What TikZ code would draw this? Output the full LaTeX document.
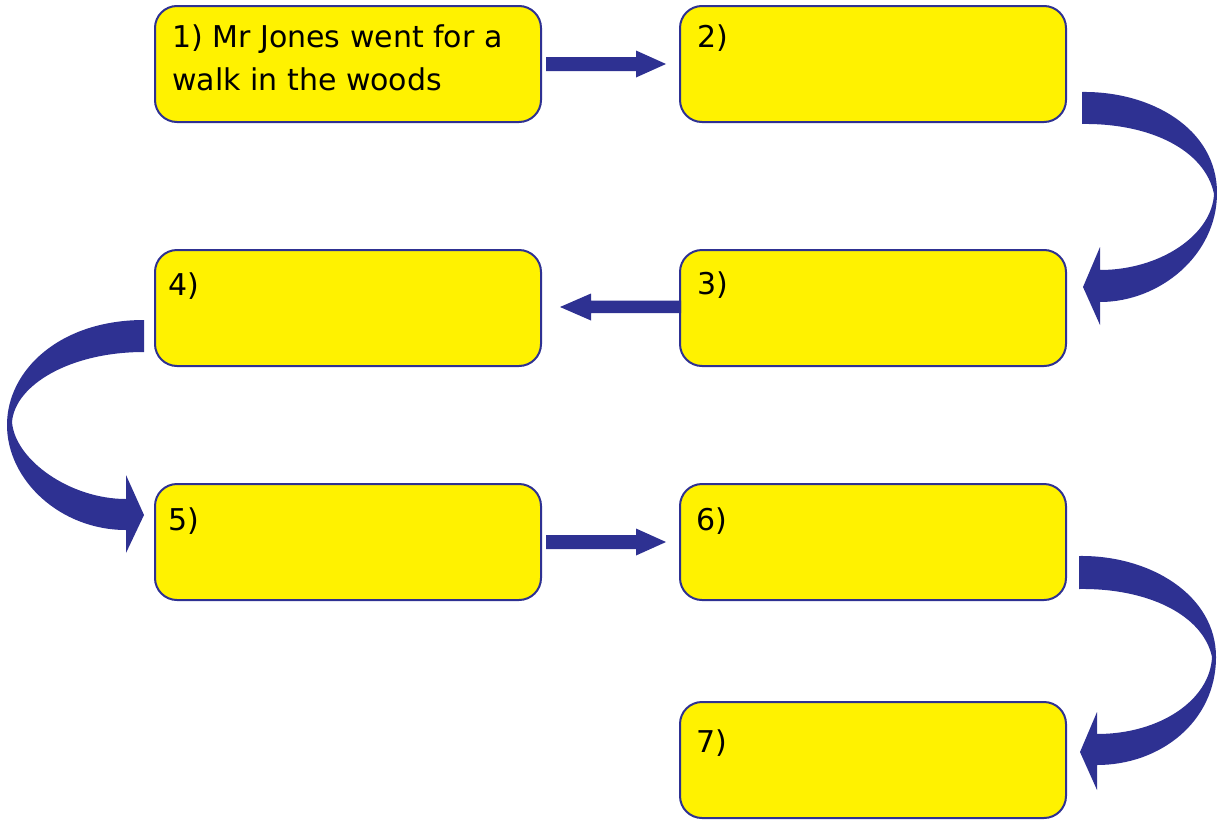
\documentclass[tikz,border=0pt]{standalone}
\usepackage{fontspec}
\setmainfont{DejaVu Sans}
\usetikzlibrary{calc}
\definecolor{boxyellow}{HTML}{FFF200}
\definecolor{navy}{HTML}{2E3192}
\begin{document}
\begin{tikzpicture}[x=1pt,y=-1pt,
  box/.style={draw=navy, line width=2pt, fill=boxyellow, rounded corners=22pt,
    minimum width=386pt, minimum height=116pt, inner sep=0pt},
  lbl/.style={anchor=base west, inner sep=0pt, font=\fontsize{30}{36}\selectfont, text=black},
  arrowfill/.style={fill=navy}]
\useasboundingbox (0,0) rectangle (1217,819);
% boxes
\node[box] (b1) at (348,64) {};
\node[box] (b2) at (873,64) {};
\node[box] (b3) at (873,308) {};
\node[box] (b4) at (348,308) {};
\node[box] (b5) at (348,542) {};
\node[box] (b6) at (873,542) {};
\node[box] (b7) at (873,760) {};
% labels
\node[lbl] (t1) at (172,47) {1) Mr Jones went for a};
\node[lbl] (t1b) at (172,90) {walk in the woods};
\node[lbl] (t2) at (697,47) {2)};
\node[lbl] (t3) at (697,294) {3)};
\node[lbl] (t4) at (168,295) {4)};
\node[lbl] (t5) at (168,530) {5)};
\node[lbl] (t6) at (696,530) {6)};
\node[lbl] (t7) at (696,752) {7)};
% straight arrows
\fill[arrowfill] ($(b1.east)+(4,-7)$) -- ($(b2.west)+(-43,-7)$) -- ($(b2.west)+(-43,-13.5)$)
  -- ($(b2.west)+(-13,0)$) -- ($(b2.west)+(-43,13.5)$) -- ($(b2.west)+(-43,7)$)
  -- ($(b1.east)+(4,7)$) -- cycle;
\fill[arrowfill] ($(b3.west)+(2,-7.5)$) -- ($(b4.east)+(49,-7.5)$) -- ($(b4.east)+(49,-14.5)$)
  -- ($(b4.east)+(18,-1)$) -- ($(b4.east)+(49,12.5)$) -- ($(b4.east)+(49,5)$)
  -- ($(b3.west)+(2,5)$) -- cycle;
\fill[arrowfill] ($(b5.east)+(4,-7)$) -- ($(b6.west)+(-43,-7)$) -- ($(b6.west)+(-43,-13.5)$)
  -- ($(b6.west)+(-13,0)$) -- ($(b6.west)+(-43,13.5)$) -- ($(b6.west)+(-43,7)$)
  -- ($(b5.east)+(4,7)$) -- cycle;
% curved arrow 2 -> 3
\fill[arrowfill] ($(b2.south east)+(15,-31)$)
  .. controls (1150,91) and (1217,128) .. (1217,193)
  .. controls (1217,255) and (1160,302) .. ($(b3.east)+(33,-6)$)
  -- ($(b3.east)+(33,17)$) -- ($(b3.east)+(16,-21)$) -- ($(b3.east)+(33,-61)$)
  -- ($(b3.east)+(33,-38)$)
  .. controls (1160,270) and (1212,235) .. (1214,194)
  .. controls (1205,150) and (1150,123) .. ($(b2.south east)+(15,1)$) -- cycle;
% curved arrow 4 -> 5
\fill[arrowfill] ($(b4.west)+(-10,12)$)
  .. controls (60,320) and (7,370) .. (7,425)
  .. controls (7,480) and (60,530) .. ($(b5.west)+(-28,-12)$)
  -- ($(b5.west)+(-28,11)$) -- ($(b5.west)+(-10,-27)$) -- ($(b5.west)+(-28,-67)$)
  -- ($(b5.west)+(-28,-43)$)
  .. controls (70,499) and (15,460) .. (12,422)
  .. controls (15,385) and (70,352) .. ($(b4.west)+(-10,44)$) -- cycle;
% curved arrow 6 -> 7
\fill[arrowfill] ($(b6.south east)+(12,-45)$)
  .. controls (1150,555) and (1216,595) .. (1216,657)
  .. controls (1216,722) and (1160,765) .. ($(b7.east)+(30,5)$)
  -- ($(b7.east)+(30,30)$) -- ($(b7.east)+(13,-8)$) -- ($(b7.east)+(30,-48)$)
  -- ($(b7.east)+(30,-26)$)
  .. controls (1160,734) and (1210,700) .. (1212,657)
  .. controls (1203,615) and (1148,588) .. ($(b6.south east)+(12,-12)$) -- cycle;
\end{tikzpicture}
\end{document}
